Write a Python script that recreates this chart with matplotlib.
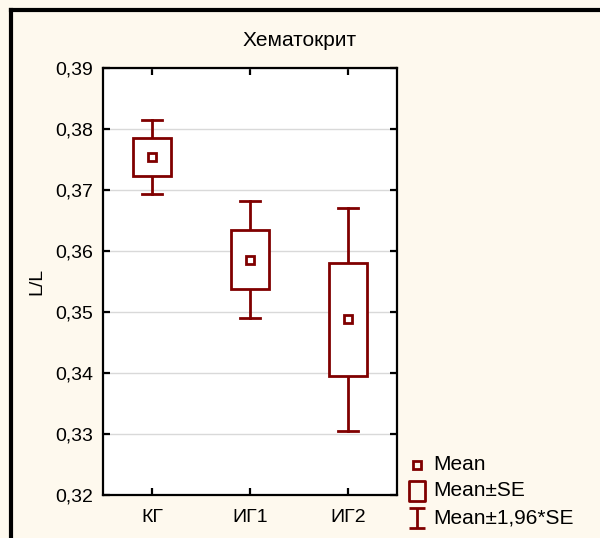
import numpy as np
import matplotlib.pyplot as plt
from matplotlib.lines import Line2D
from matplotlib.path import Path
from matplotlib.patches import Rectangle
from matplotlib.ticker import FuncFormatter

plt.rcParams['font.family'] = ['Liberation Sans', 'DejaVu Sans']

# Hematocrit by group: mean and standard error
groups = ['КГ', 'ИГ1', 'ИГ2']
means = [0.3754, 0.3586, 0.3488]
se = [0.0031, 0.0049, 0.0093]

dark_red = '#800000'
bg = '#fef9ee'

fig = plt.figure(figsize=(6.0, 5.38), dpi=100, facecolor=bg)
ax = fig.add_axes([103 / 600, 43 / 538, 294 / 600, 427 / 538])
ax.set_facecolor('white')

x = np.arange(len(groups))
box_w = 0.39
cap_w = 0.2
for xi, m, s in zip(x, means, se):
    lo, hi = m - 1.96 * s, m + 1.96 * s
    # whiskers and caps
    ax.plot([xi, xi], [m + s, hi], color=dark_red, lw=2, zorder=3)
    ax.plot([xi, xi], [lo, m - s], color=dark_red, lw=2, zorder=3)
    ax.plot([xi - cap_w / 2, xi + cap_w / 2], [hi, hi], color=dark_red, lw=2, zorder=3)
    ax.plot([xi - cap_w / 2, xi + cap_w / 2], [lo, lo], color=dark_red, lw=2, zorder=3)
    # mean ± SE box
    ax.add_patch(Rectangle((xi - box_w / 2, m - s), box_w, 2 * s, facecolor='white',
                           edgecolor=dark_red, lw=2, zorder=3))
    # mean marker
    ax.plot(xi, m, marker='s', ms=6, mfc='white', mec=dark_red, mew=2, zorder=4)

ax.set_xlim(-0.5, 2.5)
ax.set_ylim(0.32, 0.39)
ax.set_yticks(np.arange(0.32, 0.3901, 0.01))
ax.yaxis.set_major_formatter(FuncFormatter(lambda v, p: f'{v:.2f}'.replace('.', ',')))
ax.set_xticks(x)
ax.set_xticklabels(groups)
ax.grid(axis='y', color='#d9d9d9', lw=1)
ax.set_axisbelow(True)
for sp in ax.spines.values():
    sp.set_linewidth(1.6)
ax.tick_params(direction='in', length=5, width=1.6, labelsize=14,
               top=True, right=True, colors='black')
ax.tick_params(axis='y', pad=7)
ax.tick_params(axis='x', pad=10)
ax.set_ylabel('L/L', fontsize=14)
ax.yaxis.set_label_coords(-0.195, 0.5)

fig.text(300 / 600, 1 - 46 / 538, 'Хематокрит', ha='center', va='baseline', fontsize=15)

# outer frame (top and left edges)
fig.add_artist(Line2D([11 / 600, 1], [1 - 10 / 538, 1 - 10 / 538], color='black', lw=3,
                      transform=fig.transFigure))
fig.add_artist(Line2D([11 / 600, 11 / 600], [0, 1 - 10 / 538], color='black', lw=3,
                      transform=fig.transFigure))

# legend
ibeam = Path([(-0.75, 1), (0.75, 1), (0, 1), (0, -1), (-0.75, -1), (0.75, -1)],
             [Path.MOVETO, Path.LINETO, Path.MOVETO, Path.LINETO, Path.MOVETO, Path.LINETO])
rect = Path([(-0.75, -1), (0.75, -1), (0.75, 1), (-0.75, 1), (-0.75, -1)],
            [Path.MOVETO, Path.LINETO, Path.LINETO, Path.LINETO, Path.CLOSEPOLY])
legend_items = [
    ('Mean', 's', 5.5, 465),
    ('Mean±SE', rect, 15, 491),
    ('Mean±1,96*SE', ibeam, 15, 518),
]
for label, mk, size, ypx in legend_items:
    yf = 1 - ypx / 538
    fig.add_artist(Line2D([417 / 600], [yf], marker=mk, ms=size, mfc='none', mec=dark_red,
                          mew=2, ls='none', transform=fig.transFigure))
    fig.text(433 / 600, yf, label, ha='left', va='center', fontsize=15)

fig.savefig('out.png', dpi=100, facecolor=bg)
